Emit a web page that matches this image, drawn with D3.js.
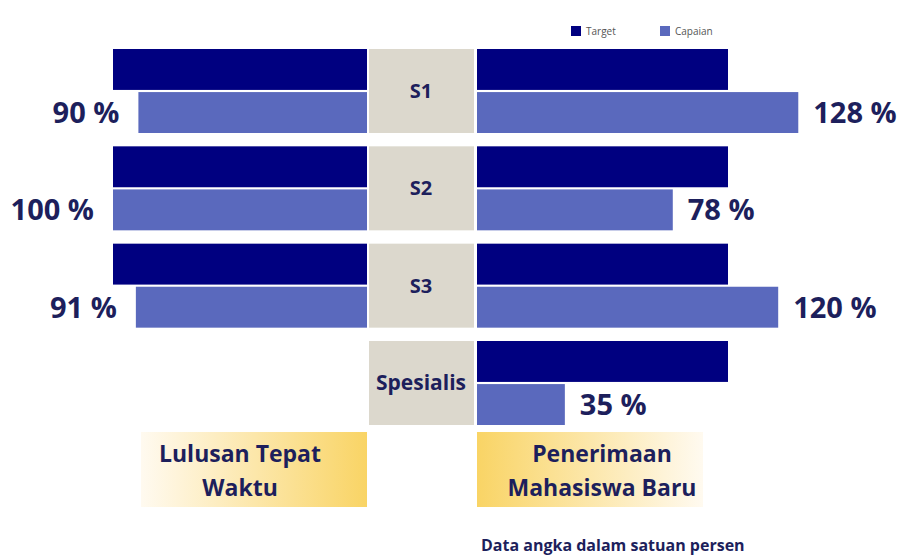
<!DOCTYPE html>
<html>
  <head>
    <meta charset="utf-8">
    <title>Lulusan dan Penerimaan</title>
    <script src="https://cdn.jsdelivr.net/npm/d3@7"></script>
    <style>
      body { margin: 0; background: #fff; }
      svg { font-family: "Open Sans", sans-serif; }
    </style>
  </head>
  <body>
    <svg id="chart" width="903" height="558"></svg>
    <script>
      // data
      categories = ["S1", "S2", "S3", "Spesialis"];
      series = ["Target", "Capaian"];
      lulusanTarget = [100, 100, 100, null];
      lulusanCapaian = [90, 100, 91, null];
      penerimaanTarget = [100, 100, 100, 100];
      penerimaanCapaian = [128, 78, 120, 35];
      panelTitles = [["Lulusan Tepat", "Waktu"], ["Penerimaan", "Mahasiswa Baru"]];
      note = "Data angka dalam satuan persen";

      colors = { Target: "#000080", Capaian: "#5a69bd" };
      ink = "#1d1f5c";

      svg = d3.select("#chart");

      // gradients for the title boxes
      defs = svg.append("defs");
      [["gradLeft", "#fffaf0", "#f9d465"], ["gradRight", "#f9d465", "#fffaf0"]].forEach(function(g) {
        let lg = defs.append("linearGradient").attr("id", g[0]);
        lg.append("stop").attr("offset", "0%").attr("stop-color", g[1]);
        lg.append("stop").attr("offset", "100%").attr("stop-color", g[2]);
      });

      // scales
      y = d3.scaleBand()
        .domain(categories)
        .range([49, 425])
        .paddingInner(0.137)
        .paddingOuter(0);
      ySub = d3.scaleBand()
        .domain(series)
        .range([0, y.bandwidth()])
        .paddingInner(0.05);
      xLeft = d3.scaleLinear().domain([0, 100]).range([367, 113]);
      xRight = d3.scaleLinear().domain([0, 100]).range([477, 728]);

      // centre label boxes
      rows = svg.selectAll(".row")
          .data(categories)
        .enter().append("g")
          .attr("class", "row")
          .attr("transform", function(d) { return "translate(0," + y(d) + ")"; });
      rows.append("rect")
        .attr("x", 369)
        .attr("width", 105)
        .attr("y", 0)
        .attr("height", y.bandwidth())
        .attr("fill", "#dcd8cd");
      rows.append("text")
        .attr("x", 421)
        .attr("y", y.bandwidth() / 2)
        .attr("dy", "0.35em")
        .attr("text-anchor", "middle")
        .attr("font-size", function(d) { return d.length > 3 ? 21 : 20; })
        .attr("font-weight", 700)
        .attr("fill", ink)
        .text(function(d) { return d; });

      // bars
      function drawSide(target, capaian, x, side) {
        let data = [];
        categories.forEach(function(c, i) {
          if (target[i] != null) data.push({ cat: c, s: "Target", v: target[i] });
          if (capaian[i] != null) data.push({ cat: c, s: "Capaian", v: capaian[i] });
        });
        svg.append("g").selectAll("rect")
            .data(data)
          .enter().append("rect")
            .attr("x", function(d) { return Math.min(x(0), x(d.v)); })
            .attr("width", function(d) { return Math.abs(x(d.v) - x(0)); })
            .attr("y", function(d) { return y(d.cat) + ySub(d.s); })
            .attr("height", ySub.bandwidth())
            .attr("fill", function(d) { return colors[d.s]; });
        svg.append("g").selectAll("text")
            .data(data.filter(function(d) { return d.s == "Capaian"; }))
          .enter().append("text")
            .attr("x", function(d) { return x(d.v) + (side == "left" ? -19 : 15); })
            .attr("y", function(d) { return y(d.cat) + ySub(d.s) + ySub.bandwidth() / 2; })
            .attr("dy", "0.36em")
            .attr("text-anchor", side == "left" ? "end" : "start")
            .attr("font-size", 29)
            .attr("font-weight", 700)
            .attr("fill", ink)
            .text(function(d) { return d.v + " %"; });
      }
      drawSide(lulusanTarget, lulusanCapaian, xLeft, "left");
      drawSide(penerimaanTarget, penerimaanCapaian, xRight, "right");

      // panel titles
      [[141, "gradLeft", 240], [477, "gradRight", 602]].forEach(function(p, i) {
        svg.append("rect")
          .attr("x", p[0])
          .attr("y", 432)
          .attr("width", 226)
          .attr("height", 75)
          .attr("fill", "url(#" + p[1] + ")");
        let t = svg.append("text")
          .attr("x", p[2])
          .attr("y", 462)
          .attr("text-anchor", "middle")
          .attr("font-size", 23)
          .attr("font-weight", 700)
          .attr("fill", ink);
        panelTitles[i].forEach(function(line, j) {
          t.append("tspan")
            .attr("x", p[2])
            .attr("dy", j == 0 ? 0 : 34)
            .text(line);
        });
      });

      // legend
      legend = svg.append("g").attr("transform", "translate(571,26)");
      series.forEach(function(s, i) {
        let g = legend.append("g").attr("transform", "translate(" + (i * 89) + ",0)");
        g.append("rect").attr("width", 10).attr("height", 10).attr("fill", colors[s]);
        g.append("text")
          .attr("x", 15)
          .attr("y", 5)
          .attr("dy", "0.35em")
          .attr("font-size", 10)
          .attr("fill", "#555")
          .text(s);
      });

      // note
      svg.append("text")
        .attr("x", 481)
        .attr("y", 551)
        .attr("font-size", 16)
        .attr("font-weight", 700)
        .attr("fill", ink)
        .text(note);
    </script>
  </body>
</html>
